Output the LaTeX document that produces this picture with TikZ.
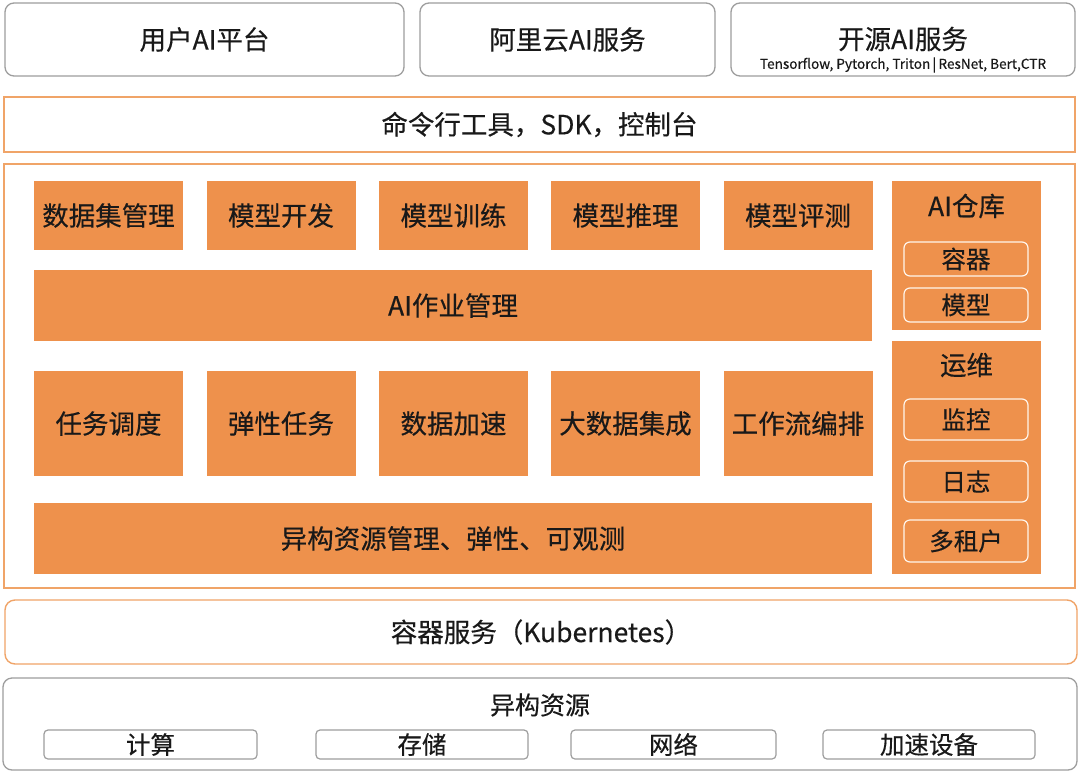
\documentclass[tikz,border=0pt]{standalone}
\usepackage{fontspec}
\setmainfont{Noto Sans CJK SC}[FakeBold=0.35]
\begin{document}
\begin{tikzpicture}[x=1pt,y=-1pt,
  every node/.style={inner sep=0pt, outer sep=0pt, text=black!90},
  graybox/.style={draw=black!38, line width=1.3pt, fill=white, rounded corners=9pt},
  orangeline/.style={draw=orLine, line width=1.4pt, fill=white},
  obox/.style={fill=orFill, draw=none, font=\fontsize{26.5}{29}\selectfont},
  ibox/.style={draw=white!92!orange, line width=1.2pt, fill=orFill, rounded corners=6pt, font=\fontsize{24.5}{27}\selectfont},
  rbox/.style={draw=black!38, line width=1.2pt, fill=white, rounded corners=4pt, font=\fontsize{24.5}{27}\selectfont},
  ttl/.style={font=\fontsize{26.5}{29}\selectfont},
]
\definecolor{orFill}{HTML}{EE914C}
\definecolor{orLine}{HTML}{F0A468}
\useasboundingbox (0,0) rectangle (1080,780);
\fill[white] (0,0) rectangle (1080,780);

% top row
\node[graybox, minimum width=399pt, minimum height=73pt, ttl] (user) at (204.5,39.5) {用户AI平台};
\node[graybox, minimum width=295pt, minimum height=73pt, ttl] (ali) at (567.5,39.5) {阿里云AI服务};
\node[graybox, minimum width=344pt, minimum height=73pt] (open) at (903,39.5) {};
\node[ttl] (opent) at (903,39) {开源AI服务};
\node[font=\fontsize{13.6}{15}\selectfont] (opens) at (903,65) {Tensorflow, Pytorch, Triton\,|\,ResNet, Bert,CTR};

% command line
\node[orangeline, minimum width=1071pt, minimum height=55pt, ttl] (cmd) at (539.5,124.5) {命令行工具，SDK，控制台};

% main frame
\node[orangeline, minimum width=1071pt, minimum height=424pt] (main) at (539.5,376) {};

% row 1
\node[obox, minimum width=149pt, minimum height=69pt] (r1a) at (108.5,215.5) {数据集管理};
\node[obox, minimum width=149pt, minimum height=69pt] (r1b) at (281,215.5) {模型开发};
\node[obox, minimum width=149pt, minimum height=69pt] (r1c) at (453.5,215.5) {模型训练};
\node[obox, minimum width=149pt, minimum height=69pt] (r1d) at (625.5,215.5) {模型推理};
\node[obox, minimum width=149pt, minimum height=69pt] (r1e) at (798,215.5) {模型评测};

% job management
\node[obox, minimum width=838pt, minimum height=71pt] (job) at (453,305.5) {AI作业管理};

% row 2
\node[obox, minimum width=149pt, minimum height=105pt] (r2a) at (108.5,423.5) {任务调度};
\node[obox, minimum width=149pt, minimum height=105pt] (r2b) at (281,423.5) {弹性任务};
\node[obox, minimum width=149pt, minimum height=105pt] (r2c) at (453.5,423.5) {数据加速};
\node[obox, minimum width=149pt, minimum height=105pt] (r2d) at (625.5,423.5) {大数据集成};
\node[obox, minimum width=149pt, minimum height=105pt] (r2e) at (798,423.5) {工作流编排};

% heterogeneous resource management
\node[obox, minimum width=838pt, minimum height=71pt] (het) at (453,538.5) {异构资源管理、弹性、可观测};

% AI warehouse
\node[obox, minimum width=149pt, minimum height=149pt] (repo) at (966.5,255.5) {};
\node[ttl] (repot) at (966.5,206) {AI仓库};
\node[ibox, minimum width=124pt, minimum height=34pt] (cont) at (966,259) {容器};
\node[ibox, minimum width=124pt, minimum height=34pt] (model) at (966,305) {模型};

% ops
\node[obox, minimum width=149pt, minimum height=233pt] (ops) at (966.5,457.5) {};
\node[ttl] (opst) at (966.5,365) {运维};
\node[ibox, minimum width=124pt, minimum height=41pt] (mon) at (966,419.5) {监控};
\node[ibox, minimum width=124pt, minimum height=41pt] (log) at (966,481.5) {日志};
\node[ibox, minimum width=124pt, minimum height=42pt] (ten) at (966,541) {多租户};

% kubernetes
\node[draw=orLine, line width=1.4pt, fill=white, rounded corners=10pt, minimum width=1072pt, minimum height=64pt, ttl] (k8s) at (541,632) {容器服务（Kubernetes）};

% resources
\node[graybox, minimum width=1074pt, minimum height=92pt] (res) at (540,724) {};
\node[font=\fontsize{25}{28}\selectfont] (rest) at (540,705) {异构资源};
\node[rbox, minimum width=213pt, minimum height=29pt] (cpu) at (150.5,744.5) {计算};
\node[rbox, minimum width=212pt, minimum height=29pt] (sto) at (422,744.5) {存储};
\node[rbox, minimum width=205pt, minimum height=29pt] (net) at (673.5,744.5) {网络};
\node[rbox, minimum width=212pt, minimum height=29pt] (acc) at (929,744.5) {加速设备};
\end{tikzpicture}
\end{document}
